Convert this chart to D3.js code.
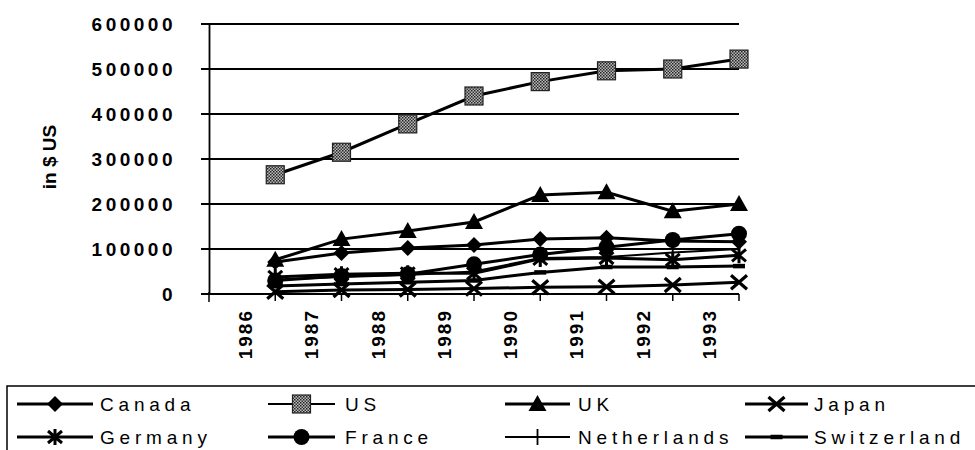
<!DOCTYPE html>
<html>
<head>
<meta charset="utf-8">
<script src="https://cdn.jsdelivr.net/npm/d3@7"></script>
<style>
  body { margin: 0; background: #fff; }
  svg { font-family: "Liberation Sans", Arial, sans-serif; }
</style>
</head>
<body>
<svg width="975" height="450"></svg>
<script>
// years on the x axis
var years = ["1986", "1987", "1988", "1989", "1990", "1991", "1992", "1993"];
var yTicks = [0, 100000, 200000, 300000, 400000, 500000, 600000];

// values (in $ US)
var canada      = [71000, 91000, 102000, 109000, 122000, 125000, 118000, 116000];
var us          = [265000, 315000, 378000, 440000, 472000, 496000, 500000, 522000];
var uk          = [76000, 122000, 140000, 160000, 220000, 226000, 184000, 200000];
var japan       = [5000, 9000, 10000, 12000, 15000, 16000, 20000, 26000];
var germany     = [38000, 44000, 46000, 46000, 78000, 80000, 76000, 86000];
var france      = [30000, 40000, 44000, 66000, 88000, 104000, 120000, 134000];
var netherlands = [32000, 38000, 42000, 50000, 80000, 82000, 92000, 100000];
var switzerland = [18000, 22000, 26000, 30000, 48000, 60000, 60000, 62000];

var seriesNames = ["Canada", "US", "UK", "Japan", "Germany", "France", "Netherlands", "Switzerland"];
var seriesValues = [canada, us, uk, japan, germany, france, netherlands, switzerland];
var markerTypes = ["diamond", "square", "triangle", "x", "asterisk", "circle", "plus", "dash"];

var svg = d3.select('svg');

// pattern for the grey dotted squares
var pat = svg.append('defs').append('pattern')
    .attr('id', 'dots').attr('width', 3).attr('height', 3)
    .attr('patternUnits', 'userSpaceOnUse');
pat.append('rect').attr('width', 3).attr('height', 3).attr('fill', '#bbb');
pat.append('rect').attr('width', 1.5).attr('height', 1.5).attr('fill', '#222');
pat.append('rect').attr('x', 1.5).attr('y', 1.5).attr('width', 1.5).attr('height', 1.5).attr('fill', '#333');

var scaleX = d3.scaleBand().domain(years).range([209, 739]);
var scaleY = d3.scaleLinear().domain([0, 600000]).range([294, 24]);

// markers sit on the right edge of each category
function px(i) { return scaleX(years[i]) + scaleX.bandwidth(); }

// horizontal grid lines
svg.append('g').selectAll('line')
    .data(yTicks)
    .enter()
    .append('line')
    .attr('x1', 201).attr('x2', 739)
    .attr('y1', function(d){ return scaleY(d); })
    .attr('y2', function(d){ return scaleY(d); })
    .attr('stroke', '#000').attr('stroke-width', 1.8);

// y axis
var yAxis = svg.append('g')
    .attr('transform', 'translate(209,0)')
    .call(d3.axisLeft(scaleY).tickValues(yTicks).tickFormat(d3.format('d')).tickSize(0).tickPadding(33));
yAxis.select('.domain').attr('stroke', '#000').attr('stroke-width', 1.8);
yAxis.selectAll('text')
    .attr('font-size', 19).attr('font-weight', 'bold')
    .style('letter-spacing', '3.5px')
    .attr('fill', '#000');

// x axis: ticks at category edges, labels at centres
var xAxis = svg.append('g').attr('transform', 'translate(0,294)');
xAxis.append('line').attr('x1', 209).attr('x2', 739).attr('y1', 0).attr('y2', 0)
    .attr('stroke', '#000').attr('stroke-width', 1.8);
xAxis.append('line').attr('x1', 209).attr('x2', 209).attr('y1', -2).attr('y2', 8)
    .attr('stroke', '#000').attr('stroke-width', 1.5);
xAxis.selectAll('.tk')
    .data(years)
    .enter()
    .append('line')
    .attr('class', 'tk')
    .attr('x1', function(d){ return scaleX(d) + scaleX.bandwidth(); })
    .attr('x2', function(d){ return scaleX(d) + scaleX.bandwidth(); })
    .attr('y1', 0).attr('y2', 7)
    .attr('stroke', '#000').attr('stroke-width', 1.5);
xAxis.selectAll('.lb')
    .data(years)
    .enter()
    .append('text')
    .attr('class', 'lb')
    .text(function(d){ return d; })
    .attr('transform', function(d){
        return 'translate(' + (scaleX(d) + scaleX.bandwidth() / 2 + 10) + ',15)rotate(-90)';
    })
    .attr('text-anchor', 'end')
    .attr('font-size', 19).attr('font-weight', 'bold')
    .style('letter-spacing', '2px');

// y axis title
svg.append('text')
    .text('in $ US')
    .attr('transform', 'translate(56,157)rotate(-90)')
    .attr('text-anchor', 'middle')
    .attr('font-size', 19).attr('font-weight', 'bold');

// marker drawing
function drawMarker(g, type, x, y) {
    if (type == 'diamond') {
        g.append('path').attr('d', 'M' + x + ',' + (y - 8) + 'L' + (x + 8) + ',' + y + 'L' + x + ',' + (y + 8) + 'L' + (x - 8) + ',' + y + 'Z')
            .attr('fill', '#000');
    } else if (type == 'square') {
        g.append('rect').attr('x', x - 9).attr('y', y - 9).attr('width', 18).attr('height', 18)
            .attr('fill', 'url(#dots)').attr('stroke', '#222').attr('stroke-width', 1.2);
    } else if (type == 'triangle') {
        g.append('path').attr('d', 'M' + x + ',' + (y - 9) + 'L' + (x + 9) + ',' + (y + 7) + 'L' + (x - 9) + ',' + (y + 7) + 'Z')
            .attr('fill', '#000');
    } else if (type == 'circle') {
        g.append('circle').attr('cx', x).attr('cy', y).attr('r', 8).attr('fill', '#000');
    } else if (type == 'x') {
        g.append('path').attr('d', 'M' + (x - 8) + ',' + (y - 7) + 'L' + (x + 8) + ',' + (y + 7) + 'M' + (x + 8) + ',' + (y - 7) + 'L' + (x - 8) + ',' + (y + 7))
            .attr('stroke', '#000').attr('stroke-width', 3.2).attr('fill', 'none');
    } else if (type == 'asterisk') {
        g.append('path').attr('d', 'M' + (x - 7) + ',' + (y - 6) + 'L' + (x + 7) + ',' + (y + 6) + 'M' + (x + 7) + ',' + (y - 6) + 'L' + (x - 7) + ',' + (y + 6) + 'M' + x + ',' + (y - 8) + 'L' + x + ',' + (y + 8))
            .attr('stroke', '#000').attr('stroke-width', 3).attr('fill', 'none');
    } else if (type == 'plus') {
        g.append('path').attr('d', 'M' + x + ',' + (y - 8) + 'L' + x + ',' + (y + 8))
            .attr('stroke', '#000').attr('stroke-width', 1.8).attr('fill', 'none');
    } else if (type == 'dash') {
        g.append('path').attr('d', 'M' + (x - 6) + ',' + y + 'L' + (x + 6) + ',' + y)
            .attr('stroke', '#000').attr('stroke-width', 4.5).attr('fill', 'none');
    }
}

var line = d3.line()
    .x(function(d, i){ return px(i); })
    .y(function(d){ return scaleY(d); });

// draw lines then markers for every series
seriesValues.forEach(function(vals, s) {
    var g = svg.append('g').attr('class', 'series');
    g.append('path')
        .attr('d', line(vals))
        .attr('fill', 'none')
        .attr('stroke', '#000')
        .attr('stroke-width', markerTypes[s] == 'plus' ? 2 : 3);
    vals.forEach(function(v, i) {
        drawMarker(g, markerTypes[s], px(i), scaleY(v));
    });
});

// legend
var legend = svg.append('g');
legend.append('rect')
    .attr('x', 7).attr('y', 386).attr('width', 990).attr('height', 80)
    .attr('fill', 'none').attr('stroke', '#000').attr('stroke-width', 1.5);

var legendCols = [[17, 93, 100], [268, 335, 345], [505, 570, 578], [745, 808, 814]];
var legendRows = [404, 437];

seriesNames.forEach(function(name, s) {
    var col = legendCols[s % 4];
    var yy = legendRows[Math.floor(s / 4)];
    var g = legend.append('g');
    g.append('line')
        .attr('x1', col[0]).attr('x2', col[1])
        .attr('y1', yy).attr('y2', yy)
        .attr('stroke', '#000')
        .attr('stroke-width', (markerTypes[s] == 'plus' || markerTypes[s] == 'square') ? 2 : 3);
    drawMarker(g, markerTypes[s], (col[0] + col[1]) / 2, yy);
    g.append('text')
        .text(name)
        .attr('x', col[2]).attr('y', yy + 7)
        .attr('font-size', 19)
        .style('letter-spacing', '4.8px')
        .attr('fill', '#000');
});
</script>
</body>
</html>
